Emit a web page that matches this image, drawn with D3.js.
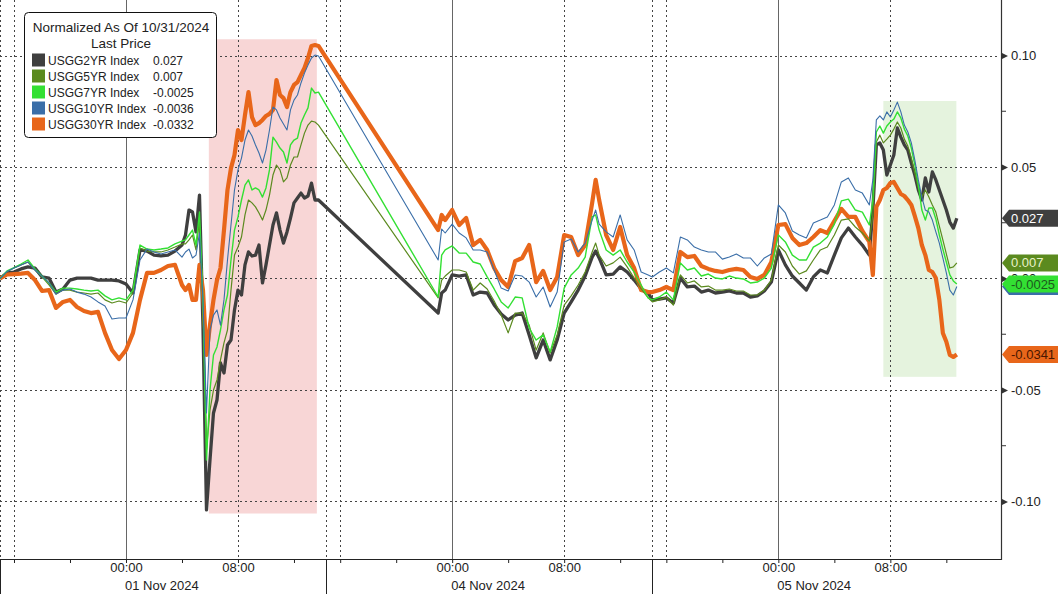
<!DOCTYPE html>
<html><head><meta charset="utf-8">
<script src="https://cdn.jsdelivr.net/npm/d3@7"></script>
<style>
body{margin:0;background:#fff}
svg{display:block}
text{font-family:"Liberation Sans",Arial,sans-serif}
</style>
</head><body>
<svg id="c" width="1058" height="594"></svg>
<script>
// ---------------- DATA ----------------
const times = [
 "2024-10-31 15:00","2024-10-31 15:30","2024-10-31 16:00","2024-10-31 16:30","2024-10-31 17:00","2024-10-31 17:30","2024-10-31 18:00","2024-10-31 18:30","2024-10-31 19:00","2024-10-31 19:30","2024-10-31 20:00","2024-10-31 20:30","2024-10-31 21:00","2024-10-31 21:30","2024-10-31 22:00","2024-10-31 22:30","2024-10-31 23:00","2024-10-31 23:30",
 "2024-11-01 00:00","2024-11-01 00:30","2024-11-01 01:00","2024-11-01 01:30","2024-11-01 02:00","2024-11-01 02:30","2024-11-01 03:00","2024-11-01 03:30",
 "2024-11-01 04:00","2024-11-01 04:15","2024-11-01 04:30","2024-11-01 04:45","2024-11-01 05:00","2024-11-01 05:15","2024-11-01 05:30","2024-11-01 05:45","2024-11-01 06:00","2024-11-01 06:15","2024-11-01 06:30","2024-11-01 06:45","2024-11-01 07:00","2024-11-01 07:15","2024-11-01 07:30","2024-11-01 07:45","2024-11-01 08:00","2024-11-01 08:15","2024-11-01 08:30","2024-11-01 08:45","2024-11-01 09:00","2024-11-01 09:15","2024-11-01 09:30","2024-11-01 09:45","2024-11-01 10:00","2024-11-01 10:15","2024-11-01 10:30","2024-11-01 10:45","2024-11-01 11:00","2024-11-01 11:15","2024-11-01 11:30","2024-11-01 11:45","2024-11-01 12:00","2024-11-01 12:15","2024-11-01 12:30","2024-11-01 12:45","2024-11-01 13:00","2024-11-01 13:15","2024-11-01 13:30","2024-11-01 13:45",
 "2024-11-03 23:00","2024-11-03 23:15","2024-11-03 23:30","2024-11-04 00:00","2024-11-04 00:30","2024-11-04 01:00","2024-11-04 01:30","2024-11-04 02:00","2024-11-04 02:30","2024-11-04 03:00","2024-11-04 03:30","2024-11-04 04:00","2024-11-04 04:30","2024-11-04 05:00","2024-11-04 05:30","2024-11-04 06:00","2024-11-04 06:30","2024-11-04 07:00","2024-11-04 07:30","2024-11-04 08:00","2024-11-04 08:30","2024-11-04 09:00","2024-11-04 09:30","2024-11-04 10:00","2024-11-04 10:15","2024-11-04 10:30","2024-11-04 11:00","2024-11-04 11:30","2024-11-04 12:00","2024-11-04 12:30","2024-11-04 13:00","2024-11-04 13:30","2024-11-04 14:00",
 "2024-11-04 15:00","2024-11-04 15:30","2024-11-04 16:00","2024-11-04 16:30","2024-11-04 17:00","2024-11-04 17:30","2024-11-04 18:00","2024-11-04 18:30","2024-11-04 19:00","2024-11-04 19:30","2024-11-04 20:00","2024-11-04 20:30","2024-11-04 21:00","2024-11-04 21:30","2024-11-04 22:00","2024-11-04 22:30","2024-11-04 23:00","2024-11-04 23:30",
 "2024-11-05 00:00","2024-11-05 00:30","2024-11-05 01:00","2024-11-05 01:30","2024-11-05 02:00","2024-11-05 02:30","2024-11-05 03:00","2024-11-05 03:30","2024-11-05 04:00","2024-11-05 04:30","2024-11-05 05:00","2024-11-05 05:30","2024-11-05 06:00","2024-11-05 06:30",
 "2024-11-05 06:45","2024-11-05 07:00","2024-11-05 07:15","2024-11-05 07:30","2024-11-05 07:45","2024-11-05 08:00","2024-11-05 08:15","2024-11-05 08:30","2024-11-05 08:45","2024-11-05 09:00","2024-11-05 09:15","2024-11-05 09:30","2024-11-05 09:45","2024-11-05 10:00","2024-11-05 10:15","2024-11-05 10:30","2024-11-05 10:45","2024-11-05 11:00","2024-11-05 11:15","2024-11-05 11:30","2024-11-05 11:45","2024-11-05 12:00","2024-11-05 12:15","2024-11-05 12:30","2024-11-05 12:45"
];

const usgg2yr = [
 0,.0025,.0029,.0043,.0052,.0047,.0007,.0002,-.0061,-.0047,-.0007,.0002,.0002,.0002,-.0007,-.0007,-.0007,-.0011,-.0025,-.0065,.0128,.0123,.0105,.0101,.0105,.0123,
 .0150,.0195,.0307,.0298,.0209,.0374,-.0217,-.1038,-.0814,-.0603,-.0545,-.0379,-.0424,-.0298,-.0276,-.0141,-.0052,-.0074,.0061,.0119,.0101,.0105,.0150,-.0020,.0061,.0150,.0240,.0294,.0217,.0159,.0209,.0271,.0339,.0361,.0383,.0361,.0370,.0428,.0352,.0352,
 -.0155,-.0065,-.0052,.0016,.0011,.0016,-.0074,-.0061,-.0065,-.0119,-.0159,-.0186,-.0164,-.0155,-.0253,-.0356,-.0276,-.0365,-.0276,-.0155,-.0105,-.0052,.0011,.0096,.0123,.0092,.0016,.0020,.0052,.0029,-.0007,-.0047,-.0065,
 -.0096,-.0092,-.0087,-.0110,.0002,-.0038,-.0034,-.0061,-.0052,-.0065,-.0061,-.0056,-.0065,-.0065,-.0083,-.0078,-.0056,-.0016,.0128,.0061,.0011,-.0020,-.0052,.0007,.0038,.0025,.0105,.0182,.0226,.0186,.0150,.0105,
 .0307,.0599,.0608,.0576,.0464,.0509,.0554,.0675,.0634,.0599,.0576,.0518,.0464,.0397,.0352,.0451,.0388,.0478,.0442,.0397,.0352,.0307,.0253,.0226,.0270
];
const usgg5yr = [
 0,.0031,.0047,.0061,.0074,.0038,.0007,-.0029,-.0070,-.0052,-.0052,-.0061,-.0065,-.0070,-.0065,-.0096,-.0110,-.0101,-.0110,-.0065,.0137,.0123,.0119,.0119,.0128,.0141,
 .0155,.0155,.0173,.0195,.0128,.0262,-.0141,-.0769,-.0590,-.0500,-.0455,-.0365,-.0289,-.0231,-.0052,.0105,.0141,.0186,.0285,.0352,.0339,.0321,.0294,.0262,.0307,.0374,.0464,.0509,.0487,.0433,.0451,.0509,.0545,.0545,.0599,.0652,.0688,.0706,.0702,.0688,
 -.0087,-.0007,.0011,.0038,.0038,.0029,-.0052,-.0020,-.0047,-.0101,-.0164,-.0244,-.0155,-.0155,-.0209,-.0321,-.0244,-.0334,-.0253,-.0119,-.0078,-.0029,.0029,.0119,.0159,.0105,.0056,.0070,.0096,.0052,.0002,-.0047,-.0087,
 -.0105,-.0096,-.0083,-.0119,.0016,-.0020,-.0011,-.0038,-.0034,-.0052,-.0052,-.0047,-.0056,-.0056,-.0074,-.0074,-.0052,-.0007,.0150,.0119,.0056,.0020,.0034,.0083,.0128,.0141,.0195,.0262,.0267,.0231,.0204,.0168,
 .0285,.0612,.0643,.0608,.0625,.0643,.0670,.0702,.0675,.0625,.0594,.0540,.0473,.0406,.0365,.0397,.0365,.0330,.0298,.0235,.0173,.0110,.0047,.0052,.0070
];
const usgg7yr = [
 0,.0034,.0049,.0065,.0083,.0043,.0011,-.0020,-.0061,-.0043,-.0043,-.0047,-.0052,-.0056,-.0052,-.0078,-.0096,-.0087,-.0096,-.0052,.0150,.0132,.0128,.0132,.0137,.0155,
 .0168,.0173,.0195,.0217,.0150,.0298,-.0096,-.0814,-.0500,-.0343,-.0307,-.0231,-.0141,-.0074,.0083,.0217,.0276,.0352,.0419,.0442,.0397,.0406,.0397,.0365,.0406,.0487,.0634,.0612,.0585,.0567,.0518,.0599,.0621,.0630,.0697,.0733,.0765,.0854,.0832,.0836,
 -.0083,.0105,.0128,.0146,.0114,.0114,.0074,.0065,.0007,-.0047,-.0105,-.0132,-.0083,-.0087,-.0222,-.0276,-.0253,-.0330,-.0217,-.0043,.0016,.0047,.0096,.0276,.0285,.0217,.0128,.0105,.0128,.0074,.0029,-.0029,-.0087,
 -.0096,-.0083,-.0061,-.0096,.0070,.0038,.0047,.0011,.0020,.0002,-.0002,.0011,.0002,-.0002,-.0020,-.0016,.0002,.0047,.0195,.0164,.0105,.0083,.0083,.0141,.0159,.0186,.0244,.0348,.0356,.0307,.0298,.0240,
 .0352,.0657,.0684,.0652,.0684,.0702,.0715,.0747,.0720,.0670,.0639,.0585,.0509,.0419,.0307,.0262,.0316,.0316,.0267,.0195,.0132,.0074,.0016,-.0011,-.0025
];
const usgg10yr = [
 0,.0031,.0047,.0061,.0074,.0038,.0011,-.0020,-.0070,-.0052,-.0047,-.0061,-.0070,-.0083,-.0105,-.0123,-.0182,-.0177,-.0177,-.0096,.0083,.0132,.0119,.0110,.0119,.0128,
 .0096,.0119,.0132,.0092,.0105,.0204,-.0096,-.0603,-.0231,-.0164,-.0141,-.0209,-.0096,.0083,.0240,.0397,.0487,.0540,.0621,.0666,.0639,.0599,.0563,.0518,.0576,.0666,.0769,.0756,.0720,.0693,.0666,.0756,.0800,.0823,.0877,.0921,.0957,.0989,.1002,.0998,
 .0083,.0222,.0204,.0244,.0204,.0182,.0128,.0128,.0119,.0038,-.0043,-.0056,.0016,.0011,-.0016,-.0083,-.0038,-.0128,-.0061,.0164,.0177,.0119,.0159,.0262,.0307,.0244,.0209,.0186,.0285,.0173,.0128,.0029,.0016,
 .0007,.0029,.0047,.0025,.0186,.0173,.0141,.0128,.0119,.0119,.0087,.0096,.0110,.0092,.0092,.0056,.0092,.0110,.0330,.0294,.0213,.0195,.0182,.0249,.0262,.0276,.0330,.0433,.0451,.0397,.0383,.0330,
 .0442,.0711,.0729,.0711,.0747,.0724,.0756,.0791,.0747,.0688,.0657,.0608,.0531,.0442,.0365,.0307,.0298,.0262,.0209,.0159,.0092,.0025,-.0052,-.0074,-.0036
];
const usgg30yr = [
 0,.0018,.0020,.0022,.0025,-.0007,-.0056,-.0052,-.0132,-.0105,-.0096,-.0128,-.0146,-.0155,-.0150,-.0244,-.0321,-.0361,-.0321,-.0244,-.0096,.0025,.0025,.0038,.0056,.0061,
 -.0029,-.0052,-.0029,-.0096,-.0096,.0061,-.0052,-.0343,-.0209,-.0096,-.0007,.0047,.0217,.0397,.0495,.0554,.0666,.0621,.0733,.0836,.0724,.0688,.0697,.0711,.0729,.0738,.0756,.0890,.0823,.0809,.0769,.0836,.0868,.0881,.0913,.0944,.0989,.1043,.1047,.1043,
 .0217,.0285,.0262,.0307,.0240,.0271,.0150,.0173,.0128,.0047,-.0007,-.0038,.0078,.0092,.0150,-.0016,.0034,-.0052,.0007,.0195,.0186,.0105,.0150,.0339,.0442,.0352,.0195,.0128,.0231,.0105,.0047,-.0052,-.0061,
 -.0061,-.0052,-.0038,-.0052,.0119,.0096,.0101,.0056,.0043,.0034,.0029,.0038,.0043,.0038,.0007,-.0002,.0016,.0074,.0240,.0244,.0182,.0150,.0159,.0186,.0217,.0204,.0258,.0312,.0276,.0276,.0213,.0164,
 .0016,.0321,.0352,.0397,.0406,.0428,.0433,.0406,.0379,.0370,.0352,.0330,.0280,.0226,.0150,.0105,.0038,.0029,.0002,-.0096,-.0244,-.0284,-.0343,-.0352,-.0341
];

const seriesNames = ["USGG2YR Index","USGG5YR Index","USGG7YR Index","USGG10YR Index","USGG30YR Index"];
const legendValues = ["0.027","0.007","-0.0025","-0.0036","-0.0332"];
const tagValues = [0.027, 0.007, -0.0025, -0.0036, -0.0341];
const tagLabels = ["0.027","0.007","-0.0025","","-0.0341"];

const sessions = [
 ["2024-10-31 15:00","2024-11-01 14:18"],
 ["2024-11-03 15:00","2024-11-04 14:18"],
 ["2024-11-04 15:00","2024-11-05 15:50"]
];
const bands = [
 {from:"2024-11-01 05:55", to:"2024-11-01 13:38", hi:0.1073, lo:-0.1054},
 {from:"2024-11-05 07:30", to:"2024-11-05 12:43", hi:0.0796, lo:-0.0441}
];
const majorY = [0.10, 0.05, 0, -0.05, -0.10];
const minorY = [0.075, 0.025, -0.025, -0.075];
const yTickLabels = ["0.10","0.05","0.00","-0.05","-0.10"];
const legendTitle = ["Normalized As Of 10/31/2024","Last Price"];

// ---------------- STYLE ----------------
const colors = ["#3f3f3f","#5b8a1f","#33e033","#3a6ea8","#e8661a"];
const widths = [3.3, 1.2, 1.4, 1.1, 4.2];
const tagText = ["#ffffff","#e9f2c8","#1d5a1d","#ffffff","#4a1600"];
const bandFill = ["#f8d6d6","#e5f3de"];
const drawOrder = [0, 4, 1, 2, 3];

// ---------------- SCALES ----------------
const W = 1000, H = 559;
const parse = d3.utcParse("%Y-%m-%d %H:%M");
const hrs = sessions.map(s => (parse(s[1]) - parse(s[0])) / 3600000);
const totalH = d3.sum(hrs);
const dom = [], rng = [];
let acc = 0;
sessions.forEach((s, i) => {
  dom.push(parse(s[0])); rng.push(acc / totalH * W);
  acc += hrs[i];
  dom.push(parse(s[1])); rng.push(acc / totalH * W);
});
const x = d3.scaleUtc().domain(dom).range(rng);
const y = d3.scaleLinear().domain([-0.1258, 0.1249]).range([H, 0]);

const svg = d3.select("#c");
const dates = times.map(parse);
const allSeries = [usgg2yr, usgg5yr, usgg7yr, usgg10yr, usgg30yr];

// bands
svg.append("g").selectAll("rect").data(bands).join("rect")
  .attr("x", d => x(parse(d.from))).attr("width", d => x(parse(d.to)) - x(parse(d.from)))
  .attr("y", d => y(d.hi)).attr("height", d => y(d.lo) - y(d.hi))
  .attr("fill", (d, i) => bandFill[i]);

// ticks every 4 hours within sessions
const ticks = [];
sessions.forEach(s => {
  d3.utcHour.every(4).range(parse(s[0]), parse(s[1])).forEach(t => ticks.push(t));
});

const grid = svg.append("g");
grid.selectAll("line.h").data(majorY).join("line")
  .attr("x1", 0).attr("x2", W).attr("y1", d => Math.round(y(d)) + 0.5).attr("y2", d => Math.round(y(d)) + 0.5)
  .attr("stroke", "#444").attr("stroke-width", 1).attr("stroke-dasharray", "2,3");
sessions.forEach(s => {
  const px = Math.round(x(parse(s[0]))) + 0.5;
  grid.append("line").attr("x1", px).attr("x2", px).attr("y1", 0).attr("y2", H)
    .attr("stroke", "#444").attr("stroke-dasharray", "2,3");
});
ticks.forEach(t => {
  const h = t.getUTCHours();
  const px = Math.round(x(t)) + 0.5;
  if (h === 0) {
    grid.append("line").attr("x1", px).attr("x2", px).attr("y1", 0).attr("y2", H)
      .attr("stroke", "#666").attr("stroke-width", 1);
  } else if (h === 8 || h === 16) {
    grid.append("line").attr("x1", px).attr("x2", px).attr("y1", 0).attr("y2", H)
      .attr("stroke", "#444").attr("stroke-dasharray", "2,3");
  }
});

// lines
const line = d3.line().x((d, i) => x(dates[i])).y(d => y(d)).curve(d3.curveLinear);
const lg = svg.append("g").attr("fill", "none").attr("stroke-linejoin", "round");
drawOrder.forEach(k => {
  lg.append("path").attr("d", line(allSeries[k]))
    .attr("stroke", colors[k]).attr("stroke-width", widths[k]);
});

// x axis
const xAxis = d3.axisBottom(x).tickValues(ticks).tickSize(4).tickPadding(0)
  .tickFormat(d => (d.getUTCHours() === 0 || d.getUTCHours() === 8) ? d3.utcFormat("%H:%M")(d) : "");
const gx = svg.append("g").attr("transform", `translate(0,${H})`).call(xAxis);
gx.select(".domain").remove();
gx.selectAll(".tick line").attr("stroke", "#222");
gx.selectAll(".tick text").attr("fill", "#222").attr("font-size", 13)
  .attr("font-family", '"Liberation Sans",Arial,sans-serif').attr("y", 13).attr("dy", 0);
svg.append("line").attr("x1", 0).attr("x2", W + 1).attr("y1", H + 0.5).attr("y2", H + 0.5)
  .attr("stroke", "#222").attr("stroke-width", 1.2);
sessions.forEach(s => {
  const px = Math.round(x(parse(s[0]))) + 0.5;
  svg.append("line").attr("x1", px).attr("x2", px).attr("y1", H).attr("y2", 594)
    .attr("stroke", "#222").attr("stroke-width", 1);
});
ticks.filter(t => t.getUTCHours() === 0).forEach(t => {
  svg.append("text").attr("x", x(t) - 1).attr("y", 590)
    .attr("font-size", 13).attr("fill", "#222").text(d3.utcFormat("%d %b %Y")(t));
});

// right axis
const AX = W + 1;
svg.append("line").attr("x1", AX + 0.5).attr("x2", AX + 0.5).attr("y1", 0).attr("y2", H + 1)
  .attr("stroke", "#333").attr("stroke-width", 1.2);
const yAxis = d3.axisRight(y).tickValues(majorY).tickSize(0).tickPadding(10)
  .tickFormat((d, i) => yTickLabels[i]);
const gy = svg.append("g").attr("transform", `translate(${AX},0)`).call(yAxis);
gy.select(".domain").remove();
gy.selectAll(".tick text").attr("fill", "#222").attr("font-size", 13)
  .attr("font-family", '"Liberation Sans",Arial,sans-serif');
gy.selectAll(".tick").append("path").attr("d", "M0,-3.5L7,0L0,3.5Z").attr("fill", "#333");
svg.append("g").selectAll("line").data(minorY).join("line")
  .attr("x1", AX).attr("x2", AX + 5).attr("y1", d => y(d)).attr("y2", d => y(d))
  .attr("stroke", "#333");

// value tags
[4, 3, 2, 1, 0].forEach(k => {
  const yc = y(tagValues[k]);
  const g = svg.append("g");
  g.append("path")
    .attr("d", `M${AX + 1},${yc} L${AX + 8},${yc - 8.5} L1058,${yc - 8.5} L1058,${yc + 8.5} L${AX + 8},${yc + 8.5} Z`)
    .attr("fill", colors[k]);
  if (tagLabels[k]) {
    g.append("text").attr("x", AX + 10).attr("y", yc + 4.5).attr("font-size", 13)
      .attr("fill", tagText[k]).text(tagLabels[k]);
  }
});

// legend
const leg = svg.append("g");
leg.append("rect").attr("x", 24.5).attr("y", 12.5).attr("width", 192).attr("height", 125).attr("rx", 4)
  .attr("fill", "#fff").attr("stroke", "#111").attr("stroke-width", 1);
leg.append("text").attr("x", 121).attr("y", 32).attr("text-anchor", "middle").attr("font-size", 13.5)
  .attr("fill", "#222").text(legendTitle[0]);
leg.append("text").attr("x", 121).attr("y", 48).attr("text-anchor", "middle").attr("font-size", 13.5)
  .attr("fill", "#222").text(legendTitle[1]);
seriesNames.forEach((n, i) => {
  const cy = 60 + i * 16;
  leg.append("rect").attr("x", 32).attr("y", cy - 6.5).attr("width", 13).attr("height", 13).attr("fill", colors[i]);
  leg.append("text").attr("x", 48).attr("y", cy + 4.5).attr("font-size", 12).attr("fill", "#222").text(n);
  leg.append("text").attr("x", 153).attr("y", cy + 4.5).attr("font-size", 12).attr("fill", "#222").text(legendValues[i]);
});
</script>
</body></html>
